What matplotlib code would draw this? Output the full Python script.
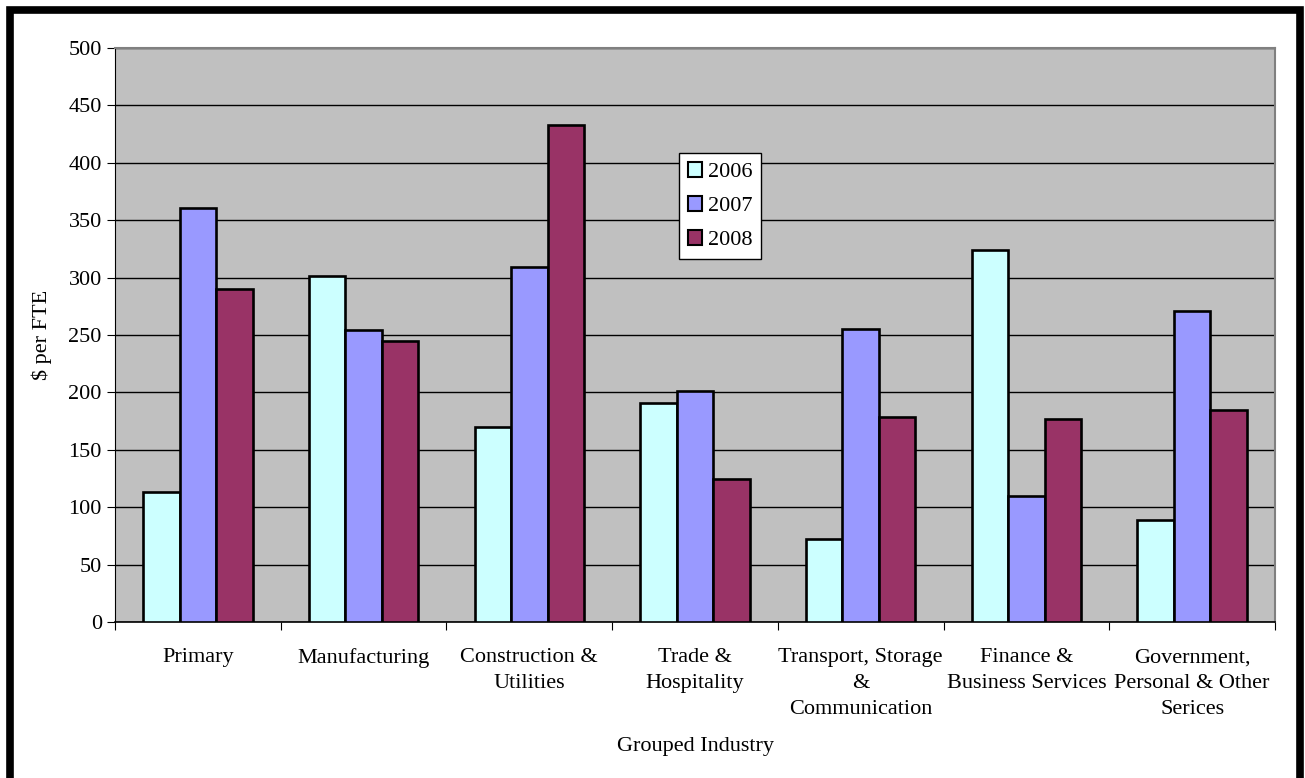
import matplotlib
matplotlib.use("Agg")
import matplotlib.pyplot as plt
import numpy as np
from matplotlib.patches import Rectangle

plt.rcParams["font.family"] = ["Liberation Serif", "DejaVu Serif"]

# data
industries = [
    "Primary",
    "Manufacturing",
    "Construction &\nUtilities",
    "Trade &\nHospitality",
    "Transport, Storage\n&\nCommunication",
    "Finance &\nBusiness Services",
    "Government,\nPersonal & Other\nSerices",
]
years = ["2006", "2007", "2008"]
vals_2006 = [113, 301, 170, 191, 72, 324, 89]
vals_2007 = [361, 254, 309, 201, 255, 110, 271]
vals_2008 = [290, 245, 433, 125, 179, 177, 185]
colors = ["#CCFFFF", "#9999FF", "#993366"]
y_ticks = np.arange(0, 501, 50)

fig = plt.figure(figsize=(13.05, 7.78), dpi=100)
ax = fig.add_axes([115 / 1305, 1 - 622 / 778, 1160 / 1305, 574 / 778])
ax.set_facecolor("#C0C0C0")

x = np.arange(len(industries))
width = 0.22
for i, (vals, col, yr) in enumerate(zip([vals_2006, vals_2007, vals_2008], colors, years)):
    ax.bar(x + (i - 1) * width, vals, width, color=col, edgecolor="black",
           linewidth=1.9, label=yr, zorder=3)

ax.set_xlim(-0.5, len(industries) - 0.5)
ax.set_ylim(0, 500)
ax.set_yticks(y_ticks)
ax.yaxis.grid(True, color="black", linewidth=1.0, zorder=1)
ax.tick_params(axis="y", labelsize=16, direction="out", length=5.5, pad=4,
               color="black")

# category boundaries as major ticks, names on minor ticks
ax.set_xticks(np.arange(-0.5, len(industries) + 0.5, 1))
ax.set_xticklabels([])
ax.tick_params(axis="x", which="major", direction="out", length=6)
ax.set_xticks(x, minor=True)
ax.set_xticklabels(industries, minor=True, fontsize=16, linespacing=1.5)
ax.tick_params(axis="x", which="minor", length=0, pad=19)

for side in ["top", "right"]:
    ax.spines[side].set_color("#808080")
    ax.spines[side].set_linewidth(1.5)
ax.spines["left"].set_color("black")
ax.spines["bottom"].set_color("black")
ax.spines["bottom"].set_linewidth(1.2)

ax.set_ylabel(r"\$ per FTE", fontsize=16, labelpad=12)
fig.text(695 / 1305, 1 - 747 / 778, "Grouped Industry", fontsize=16,
         ha="center", va="center")

leg = ax.legend(loc="upper left", bbox_to_anchor=(0.486, 0.817), fontsize=16,
                frameon=True, fancybox=False, handlelength=0.65, handleheight=0.65,
                handletextpad=0.25, labelspacing=0.62, borderpad=0.4,
                borderaxespad=0)
leg.get_frame().set_edgecolor("black")
leg.get_frame().set_linewidth(1.0)
leg.get_frame().set_alpha(1)
for h in leg.legend_handles:
    h.set_linewidth(1.5)

# thick outer border like the source export
fig.add_artist(Rectangle((9.5 / 1305, -0.1), 1290 / 1305, 1.1 - 10 / 778,
                         transform=fig.transFigure, fill=False,
                         edgecolor="black", linewidth=5.5, clip_on=False))

fig.savefig("out.png", dpi=100)
